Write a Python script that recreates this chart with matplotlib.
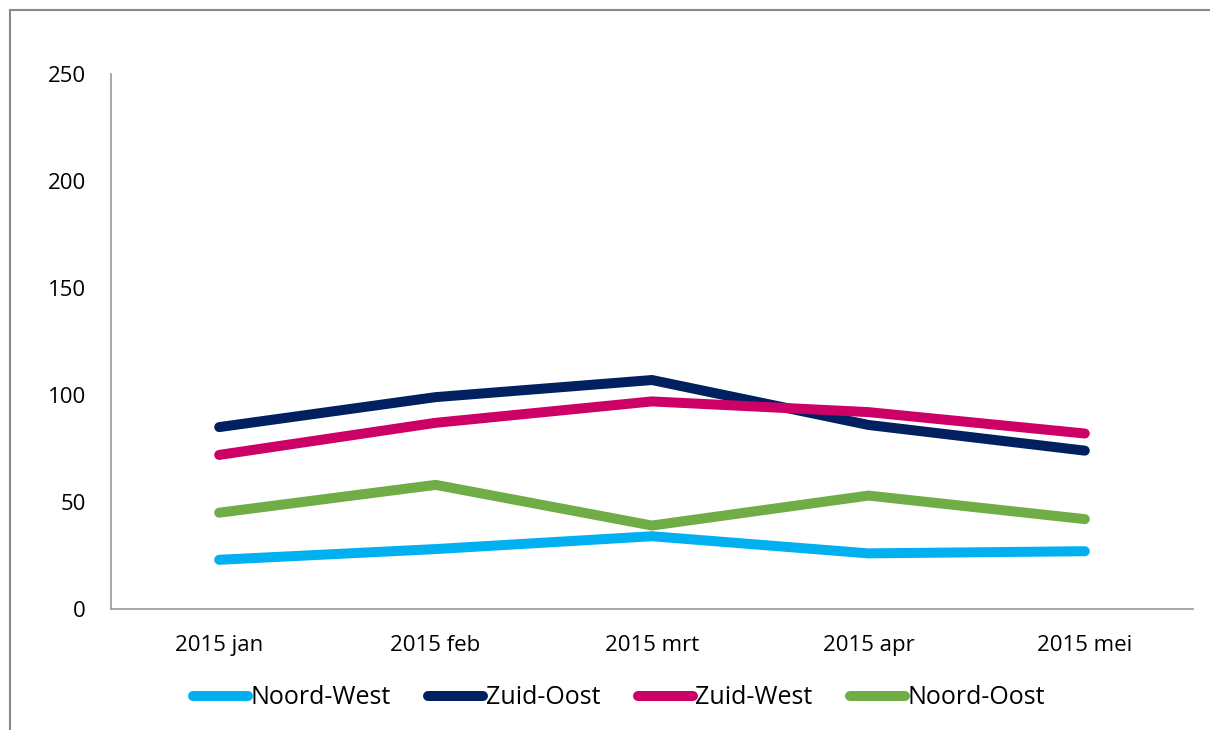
import numpy as np
import matplotlib
matplotlib.use('Agg')
import matplotlib.pyplot as plt
from matplotlib.lines import Line2D

plt.rcParams['font.family'] = ['Open Sans', 'DejaVu Sans']

months = ['2015 jan', '2015 feb', '2015 mrt', '2015 apr', '2015 mei']
noord_west = [23, 28, 34, 26, 27]
zuid_oost = [85, 99, 107, 86, 74]
zuid_west = [72, 87, 97, 92, 82]
noord_oost = [45, 58, 39, 53, 42]

series = [
    ('Noord-West', noord_west, '#00B0F0'),
    ('Zuid-Oost', zuid_oost, '#002060'),
    ('Zuid-West', zuid_west, '#CC0066'),
    ('Noord-Oost', noord_oost, '#70AD47'),
]

W, H = 1210, 730
fig = plt.figure(figsize=(W / 100, H / 100), dpi=100)
ax = fig.add_axes([111 / W, 1 - 609 / H, (1193 - 111) / W, (609 - 74) / H])

x = np.arange(len(months))
for name, vals, col in series:
    ax.plot(x, vals, color=col, linewidth=7.2, solid_capstyle='round',
            solid_joinstyle='miter', label=name)

ax.set_xlim(-0.5, len(months) - 0.5)
ax.set_ylim(0, 250)
ax.set_yticks(np.arange(0, 251, 50))
ax.set_xticks(x)
ax.set_xticklabels(months)
ax.tick_params(axis='both', length=0)
ax.tick_params(axis='y', pad=18, labelsize=16)
ax.tick_params(axis='x', pad=19, labelsize=16)
for s in ['top', 'right']:
    ax.spines[s].set_visible(False)
for s in ['left', 'bottom']:
    ax.spines[s].set_color('#999999')
    ax.spines[s].set_linewidth(1.2)

leg = fig.legend(loc='center', bbox_to_anchor=(619 / W, 1 - 698 / H), ncol=4,
                 frameon=False, fontsize=18, handlelength=2.2,
                 handletextpad=0.1, columnspacing=1.5)

# outer chart border (left and top)
fig.add_artist(Line2D([10 / W, 10 / W], [0, 1 - 10 / H], transform=fig.transFigure,
                      color='#888888', linewidth=1.5))
fig.add_artist(Line2D([10 / W, 1], [1 - 10 / H, 1 - 10 / H], transform=fig.transFigure,
                      color='#888888', linewidth=1.5))

fig.savefig('out.png', dpi=100)
